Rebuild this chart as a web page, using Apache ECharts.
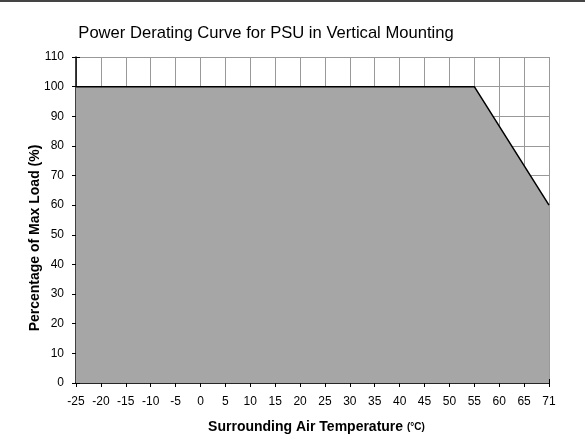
<!DOCTYPE html>
<html>
<head>
<meta charset="utf-8">
<script src="https://cdn.jsdelivr.net/npm/echarts@6/dist/echarts.min.js"></script>
<style>
  html, body { margin: 0; padding: 0; background: #fff; }
  #main { width: 585px; height: 437px; }
</style>
</head>
<body>
<div id="main"></div>
<script>
// temperature categories (evenly spaced on the original chart)
const temps = ['-25', '-20', '-15', '-10', '-5', '0', '5', '10', '15', '20', '25',
  '30', '35', '40', '45', '50', '55', '60', '65', '71'];
// load %, only the corner points are known: straight line from 55 to 71
const load = [100, 100, 100, 100, 100, 100, 100, 100, 100, 100, 100,
  100, 100, 100, 100, 100, 100, null, null, 60];

const chart = echarts.init(document.getElementById('main'));
const font = 'Liberation Sans, Arial, sans-serif';

chart.setOption({
  animation: false,
  title: {
    text: 'Power Derating Curve for PSU in Vertical Mounting',
    left: 261,
    textAlign: 'center',
    top: 20,
    textStyle: { fontFamily: font, fontSize: 16.6, fontWeight: 'normal', color: '#000' }
  },
  graphic: [{
    type: 'line',
    shape: { x1: 0, y1: 1, x2: 585, y2: 1 },
    style: { stroke: '#444', lineWidth: 2 }
  }],
  grid: { left: 76, right: 36, top: 57, bottom: 54, outerBoundsMode: 'none' },
  xAxis: [{
    type: 'category',
    data: temps,
    boundaryGap: false,
    name: '{m|Surrounding Air Temperature }{u|(°C)}',
    nameLocation: 'middle',
    nameGap: 37,
    nameMoveOverlap: false,
    nameTextStyle: {
      fontFamily: font, fontSize: 14, fontWeight: 'bold', color: '#000', padding: [0, 0, 0, 8],
      rich: {
        m: { fontFamily: font, fontSize: 14, fontWeight: 'bold', color: '#000' },
        u: { fontFamily: font, fontSize: 10, fontWeight: 'bold', color: '#000' }
      }
    },
    axisLine: { lineStyle: { color: '#000', width: 1.5 } },
    axisTick: { length: 4, interval: 0, lineStyle: { color: '#000' } },
    axisLabel: { interval: 0, margin: 13, fontFamily: font, fontSize: 12, color: '#000' },
    splitLine: { show: true, interval: 0, lineStyle: { color: '#999', width: 1 } }
  }, {
    type: 'category',
    data: temps,
    boundaryGap: false,
    position: 'bottom',
    axisLine: { show: false },
    axisTick: { inside: true, length: 4, interval: 0, lineStyle: { color: '#000' } },
    axisLabel: { show: false },
    splitLine: { show: false }
  }],
  yAxis: [{
    type: 'value',
    min: 0,
    max: 110,
    interval: 10,
    name: 'Percentage of Max Load (%)',
    nameLocation: 'middle',
    nameGap: 34,
    nameMoveOverlap: false,
    nameTextStyle: { fontFamily: font, fontSize: 14, fontWeight: 'bold', color: '#000', padding: [0, 36, 0, 0] },
    axisLine: { show: true, lineStyle: { color: '#000', width: 1.5 } },
    axisTick: { show: true, length: 4, lineStyle: { color: '#000' } },
    axisLabel: { margin: 12, fontFamily: font, fontSize: 12, color: '#000' },
    splitLine: { show: true, lineStyle: { color: '#999', width: 1 } }
  }, {
    type: 'value',
    min: 0,
    max: 110,
    interval: 10,
    position: 'left',
    axisLine: { show: false },
    axisTick: { show: true, inside: true, length: 4, lineStyle: { color: '#000' } },
    axisLabel: { show: false },
    splitLine: { show: false }
  }],
  series: [{
    type: 'line',
    data: load,
    connectNulls: true,
    symbol: 'none',
    lineStyle: { color: '#000', width: 1.5 },
    areaStyle: { color: '#a6a6a6', opacity: 1 },
    z: 3
  }]
});
</script>
</body>
</html>
